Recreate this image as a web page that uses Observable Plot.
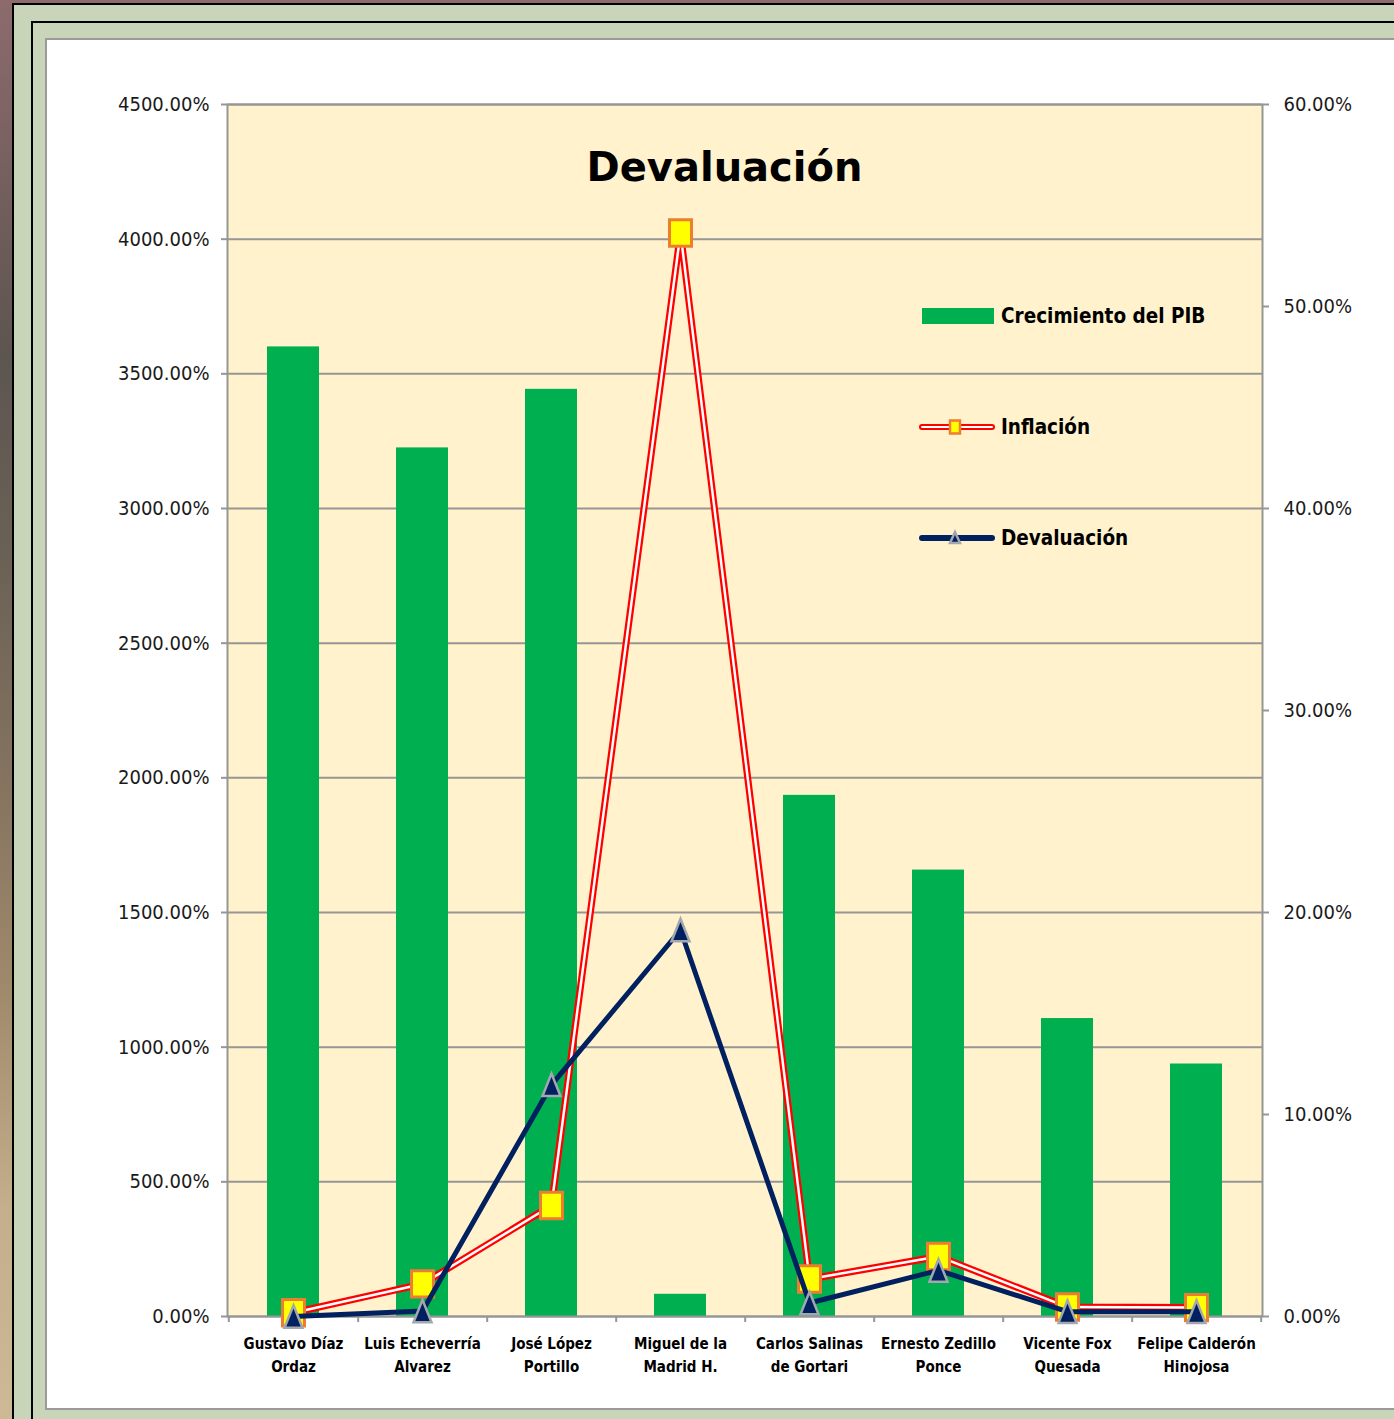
<!DOCTYPE html>
<html><head><meta charset="utf-8">
<script src="https://cdn.jsdelivr.net/npm/d3@7"></script>
<script src="https://cdn.jsdelivr.net/npm/@observablehq/plot@0.6"></script>
<style>
body{margin:0;}
#wrap{position:relative;width:1394px;height:1419px;overflow:hidden;
 background:linear-gradient(180deg,#8d6b6d 0%,#7a6260 10%,#5d5550 25%,#6b6256 40%,#85735f 55%,#a08a6c 70%,#c4ae8b 85%,#cdb996 100%);}
.fr{position:absolute;box-sizing:border-box;}
#f1{left:12px;top:3px;width:1500px;height:1500px;border:2px solid #000;background:#c8d5b9;}
#f2{left:31px;top:21px;width:1500px;height:1500px;border:2px solid #000;background:#c8d5b9;}
#f3{left:45px;top:38px;width:1400px;height:1372px;border:2px solid #9a9a9a;background:#fff;}
#chart{position:absolute;left:0;top:0;}
</style></head><body>
<div id="wrap"><div class="fr" id="f1"></div><div class="fr" id="f2"></div><div class="fr" id="f3"></div><div id="chart"></div></div>
<script>
// ---- data ----
const categories = ["Gustavo Díaz Ordaz","Luis Echeverría Alvarez","José López Portillo","Miguel de la Madrid H.","Carlos Salinas de Gortari","Ernesto Zedillo Ponce","Vicente Fox Quesada","Felipe Calderón Hinojosa"];
const categoryLabels = ["Gustavo Díaz\nOrdaz","Luis Echeverría\nAlvarez","José López\nPortillo","Miguel de la\nMadrid H.","Carlos Salinas\nde Gortari","Ernesto Zedillo\nPonce","Vicente Fox\nQuesada","Felipe Calderón\nHinojosa"];
const pibGrowth = [48.0, 43.0, 45.9, 1.1, 25.8, 22.1, 14.75, 12.5];   // right axis (%)
const inflation = [14, 121, 412, 4023, 139, 223, 35, 33];            // left axis (%)
const devaluation = [0, 20, 860, 1435, 50, 171, 18, 18];             // left axis (%)
const leftTicks = [0, 500, 1000, 1500, 2000, 2500, 3000, 3500, 4000, 4500];
const rightTicks = [0, 10, 20, 30, 40, 50, 60];
const seriesNames = ["Crecimiento del PIB", "Inflación", "Devaluación"];
const chartTitle = "Devaluación";

// ---- build ----
const k = leftTicks[leftTicks.length-1] / rightTicks[rightTicks.length-1];
const data = categories.map((c,i)=>({c, pib: pibGrowth[i], infl: inflation[i], dev: devaluation[i]}));
const labelOf = Object.fromEntries(categories.map((c,i)=>[c, categoryLabels[i]]));

const W = 1394, H = 1419, ML = 227, MR = 132, MT = 104, MB = 103;
const step = (W - ML - MR) / categories.length;
const GRAY = "#969696", GREEN = "#00B050", NAVY = "#002060", RED = "#FF0000", YEL = "#FFFF00", ORANGE = "#ED7D31", TRI = "#A3A7AE";
const FONT = "'DejaVu Sans Condensed','DejaVu Sans',sans-serif";

const rectSymbol = {draw(ctx, size){ const w = 2*Math.sqrt(size/Math.PI); const h = w*1.2;
  ctx.moveTo(-w/2,-h/2); ctx.lineTo(w/2,-h/2); ctx.lineTo(w/2,h/2); ctx.lineTo(-w/2,h/2); ctx.closePath(); }};
const triSymbol = {draw(ctx, size){ const w = 2*Math.sqrt(size/Math.PI); const h = w*1.25;
  ctx.moveTo(0,-h/2); ctx.lineTo(w/2,h/2); ctx.lineTo(-w/2,h/2); ctx.closePath(); }};

function legend(index, scales, values, dim){
  const g = d3.create("svg:g").attr("font-family", FONT).attr("font-stretch","condensed").attr("font-weight","bold")
    .attr("font-size",20.5).attr("fill","#000").attr("text-anchor","start");
  const x0 = dim.width - dim.marginRight - 342;
  const rows = [dim.marginTop + 212, dim.marginTop + 323, dim.marginTop + 434];
  // row 1: bar swatch
  g.append("rect").attr("x", x0+2).attr("y", rows[0]-8).attr("width", 72).attr("height", 16).attr("fill", GREEN);
  // row 2: double red line + square marker
  g.append("line").attr("x1", x0+2).attr("x2", x0+72).attr("y1", rows[1]).attr("y2", rows[1]).attr("stroke", RED).attr("stroke-width", 6).attr("stroke-linecap","round");
  g.append("line").attr("x1", x0+2).attr("x2", x0+72).attr("y1", rows[1]).attr("y2", rows[1]).attr("stroke", "#fff").attr("stroke-width", 2).attr("stroke-linecap","round");
  g.append("rect").attr("x", x0+30).attr("y", rows[1]-6.5).attr("width", 10).attr("height", 13).attr("fill", YEL).attr("stroke", ORANGE).attr("stroke-width", 2.5);
  // row 3: navy line + triangle
  g.append("line").attr("x1", x0+2).attr("x2", x0+72).attr("y1", rows[2]).attr("y2", rows[2]).attr("stroke", NAVY).attr("stroke-width", 6).attr("stroke-linecap","round");
  g.append("path").attr("d", `M${x0+35},${rows[2]-6}L${x0+40},${rows[2]+5}L${x0+30},${rows[2]+5}Z`).attr("fill", NAVY).attr("stroke", TRI).attr("stroke-width", 2.5);
  seriesNames.forEach((s,i)=>{
    g.append("text").attr("x", x0+81).attr("y", rows[i]).attr("dy","0.36em").text(s);
  });
  return g.node();
}

const plot = Plot.plot({
  width: W, height: H,
  marginLeft: ML, marginRight: MR, marginTop: MT, marginBottom: MB,
  style: {background: "transparent", overflow: "visible", fontFamily: FONT, fontStretch: "condensed"},
  x: {type: "band", domain: categories, paddingInner: 0.6, paddingOuter: 0.3, label: null},
  y: {domain: [0, leftTicks[leftTicks.length-1]], label: null},
  marks: [
    Plot.frame({fill: "#FFF2CC"}),
    Plot.ruleY(leftTicks, {stroke: GRAY, strokeWidth: 2}),
    Plot.barY(data, {x: "c", y: d => d.pib * k, fill: GREEN}),
    Plot.frame({stroke: GRAY, strokeWidth: 2}),
    Plot.axisY({anchor: "left", ticks: leftTicks, tickFormat: d => d.toFixed(2) + "%", tickSize: 6, tickPadding: 12,
      stroke: GRAY, strokeWidth: 2, fill: "#1a1a1a", fontSize: 20, label: null}),
    Plot.axisY({anchor: "right", ticks: rightTicks.map(v => v * k), tickFormat: d => (d / k).toFixed(2) + "%", tickSize: 6, tickPadding: 15,
      stroke: GRAY, strokeWidth: 2, fill: "#1a1a1a", fontSize: 20, label: null}),
    Plot.axisX({tickSize: 0, tickPadding: 17, tickFormat: c => labelOf[c], fontWeight: "bold", fontSize: 15, lineHeight: 1.5, fill: "#000", label: null}),
    Plot.axisX({tickSize: 6, tickFormat: () => "", dx: step/2, stroke: GRAY, strokeWidth: 2, label: null}),
    Plot.axisX({ticks: [categories[0]], tickSize: 6, tickFormat: () => "", dx: -step/2, stroke: GRAY, strokeWidth: 2, label: null}),
    Plot.line(data, {x: "c", y: "infl", stroke: RED, strokeWidth: 7}),
    Plot.line(data, {x: "c", y: "infl", stroke: "#FFFFFF", strokeWidth: 2.5}),
    Plot.dot(data, {x: "c", y: "infl", symbol: rectSymbol, r: 11, fill: YEL, stroke: ORANGE, strokeWidth: 3}),
    Plot.line(data, {x: "c", y: "dev", stroke: NAVY, strokeWidth: 5}),
    Plot.dot(data, {x: "c", y: "dev", symbol: triSymbol, r: 9, fill: NAVY, stroke: TRI, strokeWidth: 2.5}),
    Plot.text([chartTitle], {frameAnchor: "top", lineAnchor: "top", dy: 48, dx: -20.5, fontSize: 40, fontWeight: "bold", fontFamily: "DejaVu Sans", fill: "#000"}),
    legend
  ]
});
d3.select(plot).selectAll("text").filter(function(){ return this.textContent === chartTitle && this.getAttribute("font-size") == "40"; })
  .style("font-stretch", "normal");
d3.select(plot).selectAll("g[aria-label='text'] text").style("font-stretch", "normal");
document.getElementById("chart").appendChild(plot);
</script>
</body></html>
